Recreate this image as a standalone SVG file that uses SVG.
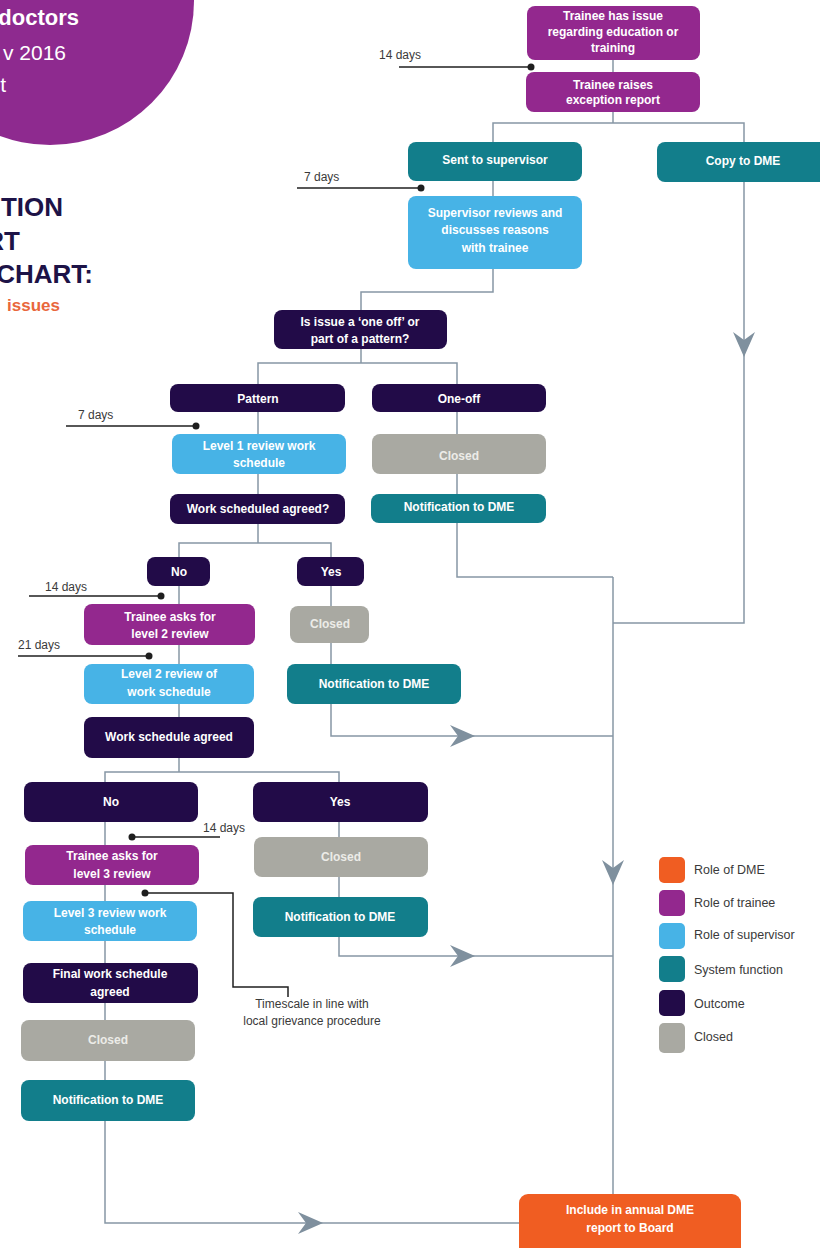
<svg xmlns="http://www.w3.org/2000/svg" width="820" height="1248" viewBox="0 0 820 1248">
<defs>
<style>
.n text{font-family:"Liberation Sans",Arial,sans-serif;font-weight:bold;font-size:12px;fill:#ffffff;text-anchor:middle}
.tr{fill:#93288e}.sv{fill:#47b3e6}.sy{fill:#127e8b}.oc{fill:#220b48}.cl{fill:#a9a9a2}.dm{fill:#f05d22}
.n text.ct{fill:#ececE8}
.con path{fill:none;stroke:#8797a5;stroke-width:1.5}
.arr{fill:#7f909e}
.tm path{fill:none;stroke:#1f1f1f;stroke-width:1.5}
.tm circle{fill:#1f1f1f}
.lbl{font-family:"Liberation Sans",Arial,sans-serif;font-size:12px;fill:#3a3a3a}
.ttl{font-family:"Liberation Sans",Arial,sans-serif;font-weight:bold;font-size:26px;fill:#1d1347;text-anchor:end}
.leg text{font-family:"Liberation Sans",Arial,sans-serif;font-size:12.5px;fill:#3a3a3a}
</style>
</defs>
<rect width="820" height="1248" fill="#ffffff"/>
<g id="header">
<circle cx="50" cy="1" r="144" fill="#8e2a8f"/>
<text x="79" y="25" font-family="Liberation Sans,Arial,sans-serif" font-weight="bold" font-size="22" fill="#ffffff" text-anchor="end">doctors</text>
<text x="66" y="60" font-family="Liberation Sans,Arial,sans-serif" font-size="21" fill="#ffffff" text-anchor="end">v 2016</text>
<text x="6" y="92" font-family="Liberation Sans,Arial,sans-serif" font-size="21" fill="#ffffff" text-anchor="end">t</text>
<text class="ttl" x="63" y="216">TION</text>
<text class="ttl" x="20" y="250">RT</text>
<text class="ttl" x="93" y="283">CHART:</text>
<text x="60" y="311" font-family="Liberation Sans,Arial,sans-serif" font-weight="bold" font-size="17" fill="#e9673c" text-anchor="end">issues</text>
</g>
<g id="connectors">
<g class="con">
<path d="M613,60V72"/>
<path d="M613,112V123"/>
<path d="M493,142V123H744V142"/>
<path d="M493,181V196"/>
<path d="M493,269V292H361V310"/>
<path d="M361,349V363"/>
<path d="M258,384V363H457V384"/>
<path d="M258,412V434M258,474V494M258,524V543"/>
<path d="M179,557V543H331V557"/>
<path d="M457,412V577H613"/>
<path d="M744,182V623H613"/>
<path d="M613,577V1194"/>
<path d="M179,586V772"/>
<path d="M105,782V772H339V782"/>
<path d="M331,586V736H613"/>
<path d="M105,822V1223H519"/>
<path d="M339,822V956H613"/>
</g>
<g class="arr">
<polygon points="744,357 733,332 744,340 755,332"/>
<polygon points="613,885 602,860 613,868 624,860"/>
<polygon points="475,736 450,725 458,736 450,747"/>
<polygon points="475,956 450,945 458,956 450,967"/>
<polygon points="323,1223 298,1212 306,1223 298,1234"/>
</g>
<g class="tm">
<path d="M399,67H531"/><circle cx="531" cy="67" r="3.5"/>
<path d="M297,188H421"/><circle cx="421" cy="188" r="3.5"/>
<path d="M66,426H196"/><circle cx="196" cy="426" r="3.5"/>
<path d="M29,596H161"/><circle cx="161" cy="596" r="3.5"/>
<path d="M18,656H149"/><circle cx="149" cy="656" r="3.5"/>
<path d="M132,837H220"/><circle cx="132" cy="837" r="3.5"/>
<path d="M145,893H233V987H288V997"/><circle cx="145" cy="893" r="3.5"/>
</g>
<text class="lbl" x="379" y="59">14 days</text>
<text class="lbl" x="304" y="181">7 days</text>
<text class="lbl" x="78" y="419">7 days</text>
<text class="lbl" x="45" y="591">14 days</text>
<text class="lbl" x="18" y="649">21 days</text>
<text class="lbl" x="203" y="832">14 days</text>
<text class="lbl" x="312" y="1008" text-anchor="middle">Timescale in line with</text>
<text class="lbl" x="312" y="1025" text-anchor="middle">local grievance procedure</text>
</g>
<g id="n1" class="n"><rect class="tr" x="527" y="6" width="173" height="54" rx="8"/><text x="613" y="20">Trainee has issue</text><text x="613" y="36">regarding education or</text><text x="613" y="52">training</text></g>
<g id="n2" class="n"><rect class="tr" x="526" y="72" width="174" height="40" rx="8"/><text x="613" y="89">Trainee raises</text><text x="613" y="104">exception report</text></g>
<g id="n3" class="n"><rect class="sy" x="408" y="142" width="174" height="39" rx="8"/><text x="495" y="164">Sent to supervisor</text></g>
<g id="n4" class="n"><rect class="sy" x="657" y="142" width="175" height="40" rx="8"/><text x="743" y="165">Copy to DME</text></g>
<g id="n5" class="n"><rect class="sv" x="408" y="196" width="174" height="73" rx="8"/><text x="495" y="217">Supervisor reviews and</text><text x="495" y="234">discusses reasons</text><text x="495" y="252">with trainee</text></g>
<g id="n6" class="n"><rect class="oc" x="274" y="310" width="173" height="39" rx="8"/><text x="360" y="326">Is issue a ‘one off’ or</text><text x="360" y="343">part of a pattern?</text></g>
<g id="n7" class="n"><rect class="oc" x="170" y="384" width="175" height="28" rx="8"/><text x="258" y="403">Pattern</text></g>
<g id="n8" class="n"><rect class="oc" x="372" y="384" width="174" height="28" rx="8"/><text x="459" y="403">One-off</text></g>
<g id="n9" class="n"><rect class="sv" x="172" y="434" width="174" height="40" rx="8"/><text x="259" y="450">Level 1 review work</text><text x="259" y="467">schedule</text></g>
<g id="n10" class="n"><rect class="cl" x="372" y="434" width="174" height="40" rx="8"/><text class="ct" x="459" y="460">Closed</text></g>
<g id="n11" class="n"><rect class="oc" x="170" y="494" width="175" height="30" rx="8"/><text x="258" y="513">Work scheduled agreed?</text></g>
<g id="n12" class="n"><rect class="sy" x="371" y="494" width="175" height="29" rx="8"/><text x="459" y="511">Notification to DME</text></g>
<g id="n13" class="n"><rect class="oc" x="147" y="557" width="63" height="29" rx="8"/><text x="179" y="576">No</text></g>
<g id="n14" class="n"><rect class="oc" x="297" y="557" width="67" height="29" rx="8"/><text x="331" y="576">Yes</text></g>
<g id="n15" class="n"><rect class="tr" x="84" y="604" width="171" height="41" rx="8"/><text x="170" y="621">Trainee asks for</text><text x="170" y="638">level 2 review</text></g>
<g id="n16" class="n"><rect class="cl" x="290" y="606" width="79" height="37" rx="8"/><text class="ct" x="330" y="628">Closed</text></g>
<g id="n17" class="n"><rect class="sv" x="84" y="664" width="170" height="40" rx="8"/><text x="169" y="678">Level 2 review of</text><text x="169" y="696">work schedule</text></g>
<g id="n18" class="n"><rect class="sy" x="287" y="664" width="174" height="40" rx="8"/><text x="374" y="688">Notification to DME</text></g>
<g id="n19" class="n"><rect class="oc" x="84" y="717" width="170" height="41" rx="8"/><text x="169" y="741">Work schedule agreed</text></g>
<g id="n20" class="n"><rect class="oc" x="24" y="782" width="174" height="40" rx="8"/><text x="111" y="806">No</text></g>
<g id="n21" class="n"><rect class="oc" x="253" y="782" width="175" height="40" rx="8"/><text x="340" y="806">Yes</text></g>
<g id="n22" class="n"><rect class="tr" x="25" y="845" width="174" height="40" rx="8"/><text x="112" y="860">Trainee asks for</text><text x="112" y="878">level 3 review</text></g>
<g id="n23" class="n"><rect class="cl" x="254" y="837" width="174" height="40" rx="8"/><text class="ct" x="341" y="861">Closed</text></g>
<g id="n24" class="n"><rect class="sv" x="23" y="901" width="174" height="40" rx="8"/><text x="110" y="917">Level 3 review work</text><text x="110" y="934">schedule</text></g>
<g id="n25" class="n"><rect class="sy" x="253" y="897" width="175" height="40" rx="8"/><text x="340" y="921">Notification to DME</text></g>
<g id="n26" class="n"><rect class="oc" x="23" y="963" width="175" height="40" rx="8"/><text x="110" y="978">Final work schedule</text><text x="110" y="996">agreed</text></g>
<g id="n27" class="n"><rect class="cl" x="21" y="1020" width="174" height="41" rx="8"/><text class="ct" x="108" y="1044">Closed</text></g>
<g id="n28" class="n"><rect class="sy" x="21" y="1080" width="174" height="41" rx="8"/><text x="108" y="1104">Notification to DME</text></g>
<g id="n29" class="n"><rect class="dm" x="519" y="1194" width="222" height="64" rx="9"/><text x="630" y="1214">Include in annual DME</text><text x="630" y="1232">report to Board</text></g>
<g id="legend" class="leg">
<rect x="659" y="857" width="26" height="26" rx="5" class="dm"/><text x="694" y="874">Role of DME</text>
<rect x="659" y="890" width="26" height="26" rx="5" class="tr"/><text x="694" y="907">Role of trainee</text>
<rect x="659" y="923" width="26" height="26" rx="5" class="sv"/><text x="694" y="939">Role of supervisor</text>
<rect x="659" y="956" width="26" height="26" rx="5" class="sy"/><text x="694" y="974">System function</text>
<rect x="659" y="990" width="26" height="26" rx="5" class="oc"/><text x="694" y="1008">Outcome</text>
<rect x="659" y="1023" width="26" height="30" rx="5" class="cl"/><text x="694" y="1041">Closed</text>
</g>
</svg>
